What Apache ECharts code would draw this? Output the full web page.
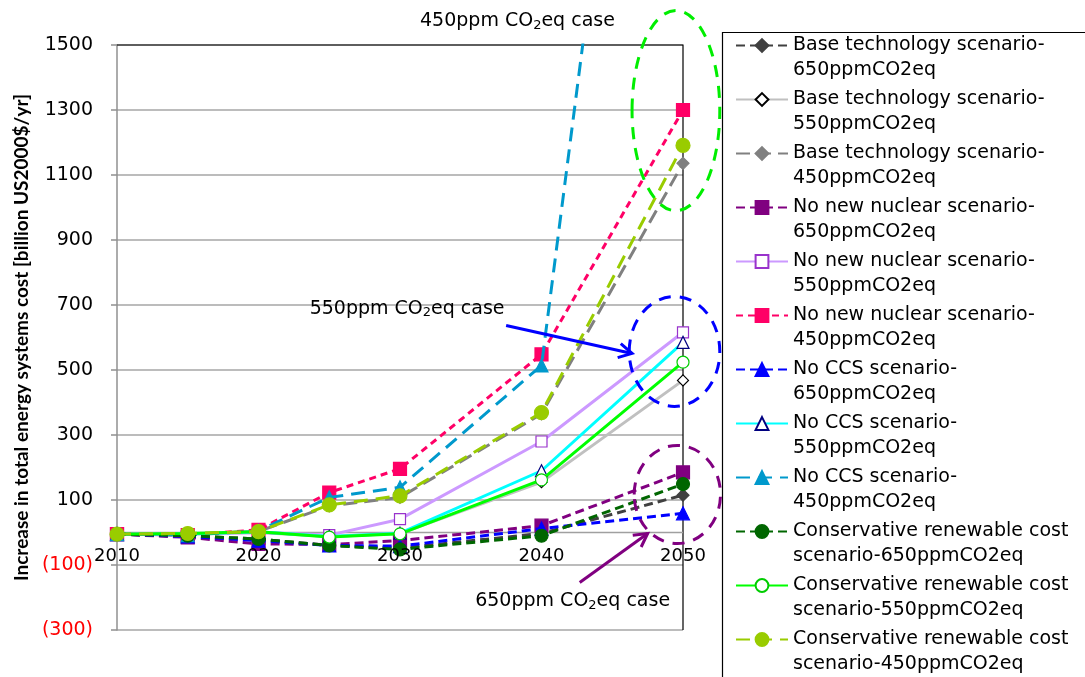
<!DOCTYPE html>
<html>
<head>
<meta charset="utf-8">
<title>Increase in total energy systems cost</title>
<script src="https://cdn.jsdelivr.net/npm/echarts@6/dist/echarts.min.js"></script>
<style>
  html, body { margin: 0; padding: 0; background: #ffffff; }
  #chart { width: 1085px; height: 677px; }
</style>
</head>
<body>
<div id="chart"></div>
<script>
// Model years and tick setup
const years = [2010, 2015, 2020, 2025, 2030, 2040, 2050];
const yearTicks = [2010, 2020, 2030, 2040, 2050];
const yTicks = { min: -300, max: 1500, interval: 200 };
const xTicks = { min: 2010, max: 2050, interval: 10 };

// Increase in total energy systems cost, billion US2000$/yr
const base650   = [-5, -10, -20, -40, -48, -3, 115];
const base550   = [-5, -5, 0, -12, -3, 155, 468];
const base450   = [-5, -5, 3, 82, 108, 365, 1136];
const noNuc650  = [-5, -15, -35, -37, -25, 21, 185];
const noNuc550  = [-5, -5, 0, -8, 41, 280, 616];
const noNuc450  = [-5, -8, 8, 123, 196, 548, 1300];
const noCcs650  = [-5, -12, -25, -40, -42, 12, 59];
const noCcs550  = [-5, -5, 2, -12, -2, 190, 585];
const noCcs450  = [-5, -8, 5, 108, 139, 514, 3900];
const cons650   = [-5, -10, -20, -40, -52, -10, 149];
const cons550   = [-5, -3, 2, -14, -4, 162, 524];
const cons450   = [-5, -3, 3, 85, 113, 369, 1191];

const seriesNames = [
  'Base technology scenario-650ppmCO2eq',
  'Base technology scenario-550ppmCO2eq',
  'Base technology scenario-450ppmCO2eq',
  'No new nuclear scenario-650ppmCO2eq',
  'No new nuclear scenario-550ppmCO2eq',
  'No new nuclear scenario-450ppmCO2eq',
  'No CCS scenario-650ppmCO2eq',
  'No CCS scenario-550ppmCO2eq',
  'No CCS scenario-450ppmCO2eq',
  'Conservative renewable cost scenario-650ppmCO2eq',
  'Conservative renewable cost scenario-550ppmCO2eq',
  'Conservative renewable cost scenario-450ppmCO2eq'
];
const seriesValues = [base650, base550, base450, noNuc650, noNuc550, noNuc450,
  noCcs650, noCcs550, noCcs450, cons650, cons550, cons450];

// Per-series look: line colour, dash, marker shape, marker fill / border
const looks = [
  { line: '#404040', dash: [9, 5],  sym: 'diamond',  size: 12, fill: '#404040', border: '#404040' },
  { line: '#C0C0C0', dash: 'solid', sym: 'diamond',  size: 11, fill: '#ffffff', border: '#000000' },
  { line: '#808080', dash: [14, 7], sym: 'diamond',  size: 12, fill: '#808080', border: '#808080' },
  { line: '#800080', dash: [9, 5],  sym: 'rect',     size: 13, fill: '#800080', border: '#800080' },
  { line: '#CC99FF', dash: 'solid', sym: 'rect',     size: 11, fill: '#ffffff', border: '#9933CC' },
  { line: '#FF0066', dash: [7, 5],  sym: 'rect',     size: 13, fill: '#FF0066', border: '#FF0066' },
  { line: '#0000FF', dash: [9, 5],  sym: 'triangle', size: 13, fill: '#0000FF', border: '#0000FF' },
  { line: '#00FFFF', dash: 'solid', sym: 'triangle', size: 12, fill: '#ffffff', border: '#000080' },
  { line: '#0099CC', dash: [14, 8], sym: 'triangle', size: 13, fill: '#0099CC', border: '#0099CC' },
  { line: '#006600', dash: [9, 5],  sym: 'circle',   size: 13, fill: '#006600', border: '#006600' },
  { line: '#00FF00', dash: 'solid', sym: 'circle',   size: 12, fill: '#ffffff', border: '#00CC00' },
  { line: '#99CC00', dash: [14, 8], sym: 'circle',   size: 14, fill: '#99CC00', border: '#99CC00' }
];

const font = 'DejaVu Sans';

const series = seriesNames.map((name, i) => {
  const lk = looks[i];
  return {
    name: name,
    type: 'line',
    data: years.map((yr, k) => [yr, seriesValues[i][k]]),
    symbol: lk.sym,
    symbolSize: lk.size,
    showAllSymbol: true,
    clip: true,
    z: 2 + i,
    lineStyle: { color: lk.line, width: 3, type: lk.dash },
    itemStyle: { color: lk.fill, borderColor: lk.border, borderWidth: 1.2 },
    emphasis: { disabled: true },
    animation: false
  };
});

// Legend labels wrap onto two lines; a blank leading line keeps the
// first text line level with the legend icon.
function legendLabel(name) {
  let lines;
  if (name.indexOf('Conservative') === 0) {
    lines = name.replace(' scenario-', '\nscenario-');
  } else {
    lines = name.replace('scenario-', 'scenario-\n');
  }
  return ' \n' + lines;
}

const chart = echarts.init(document.getElementById('chart'), null, { renderer: 'canvas' });

chart.setOption({
  backgroundColor: '#ffffff',
  animation: false,
  grid: { left: 117, right: 402, top: 45, bottom: 47, containLabel: false },
  xAxis: {
    type: 'value',
    min: xTicks.min, max: xTicks.max, interval: xTicks.interval,
    axisLine: { show: false },
    axisTick: { show: false },
    splitLine: { show: false },
    axisLabel: { show: false }
  },
  yAxis: {
    type: 'value',
    min: yTicks.min, max: yTicks.max, interval: yTicks.interval,
    axisLine: { show: true, onZero: false, lineStyle: { color: '#909090', width: 1.5 } },
    axisTick: { show: true, length: 6, lineStyle: { color: '#909090', width: 1.5 } },
    splitLine: { show: true, lineStyle: { color: '#A6A6A6', width: 1.5 } },
    axisLabel: {
      fontFamily: font, fontSize: 19, margin: 24, color: '#000',
      formatter: v => v < 0 ? '{neg|(' + Math.abs(v) + ')}' : String(v),
      rich: { neg: { color: '#FF0000', fontFamily: font, fontSize: 19 } }
    },
    name: 'Increase in total energy systems cost [billion US2000$/yr]',
    nameLocation: 'middle',
    nameRotate: 90,
    nameGap: 86,
    nameTextStyle: { fontFamily: 'Lato', fontWeight: 'bold', fontSize: 19, color: '#000' }
  },
  legend: {
    orient: 'vertical',
    left: 735,
    top: 8,
    padding: 0,
    itemGap: -21,
    itemWidth: 52,
    itemHeight: 16,
    selectedMode: false,
    data: seriesNames,
    formatter: legendLabel,
    textStyle: { fontFamily: font, fontSize: 19, lineHeight: 25, color: '#000' }
  },
  series: series
});

function px(p) { return chart.convertToPixel({ gridIndex: 0 }, p); }

// Annotations placed in data coordinates
const txtRich = {
  t: { fontFamily: font, fontSize: 19, color: '#000' },
  s: { fontFamily: font, fontSize: 13, color: '#000', padding: [9, 0, 0, 0] }
};
const notes = [
  { label: '450', at: [2038.3, 1575] },
  { label: '550', at: [2030.5, 689] },
  { label: '650', at: [2042.2, -212] }
];
const rings = [
  { c: [2049.5, 1298], rx: 3.1, ry: 308, color: '#00EE00' },
  { c: [2049.4, 557],  rx: 3.2, ry: 169, color: '#0000FF' },
  { c: [2049.6, 117],  rx: 3.05, ry: 151, color: '#800080' }
];
const arrows = [
  { from: [2037.5, 637], to: [2046.4, 551], color: '#0000FF' },
  { from: [2042.7, -154], to: [2047.5, -3], color: '#800080' }
];

const graphics = [];
// Legend frame
graphics.push({
  type: 'rect', left: 720, top: 30, silent: true, z: 0,
  shape: { x: 0, y: 0, width: 380, height: 680 },
  style: { fill: 'none', stroke: '#000', lineWidth: 1.2 }
});
// Plot frame: top and right edges
const cTL = px([xTicks.min, yTicks.max]);
const cTR = px([xTicks.max, yTicks.max]);
const cBR = px([xTicks.max, yTicks.min]);
graphics.push({
  type: 'polyline', silent: true, z: 1,
  shape: { points: [cTL, cTR, cBR] },
  style: { stroke: '#000', lineWidth: 1.2, fill: 'none' }
});
// Year axis runs along the zero line, with its labels just beneath it
const z0 = px([xTicks.min, 0]);
const z1 = px([xTicks.max, 0]);
graphics.push({
  type: 'line', silent: true, z: 1,
  shape: { x1: z0[0], y1: z0[1], x2: z1[0], y2: z1[1] },
  style: { stroke: '#A0A0A0', lineWidth: 1.5 }
});
yearTicks.forEach(yr => {
  const p = px([yr, 0]);
  graphics.push({
    type: 'text', x: p[0], y: p[1] + 15, silent: true, z: 30,
    style: { text: String(yr), fontFamily: font, fontSize: 18, fill: '#000',
      align: 'center', verticalAlign: 'top' }
  });
});
notes.forEach(n => {
  const p = px(n.at);
  graphics.push({
    type: 'text', x: p[0], y: p[1], z: 20, silent: true,
    style: {
      text: '{t|' + n.label + 'ppm CO}{s|2}{t|eq case}',
      rich: txtRich, align: 'center', verticalAlign: 'middle'
    }
  });
});
rings.forEach(r => {
  const c = px(r.c);
  const e = px([r.c[0] + r.rx, r.c[1] + r.ry]);
  graphics.push({
    type: 'ellipse', z: 20, silent: true,
    shape: { cx: c[0], cy: c[1], rx: Math.abs(e[0] - c[0]), ry: Math.abs(c[1] - e[1]) },
    style: { fill: 'none', stroke: r.color, lineWidth: 3, lineDash: [12, 9] }
  });
});
arrows.forEach(a => {
  const s = px(a.from), t = px(a.to);
  const ang = Math.atan2(t[1] - s[1], t[0] - s[0]);
  const L = 15, spread = 0.5;
  const h1 = [t[0] - L * Math.cos(ang - spread), t[1] - L * Math.sin(ang - spread)];
  const h2 = [t[0] - L * Math.cos(ang + spread), t[1] - L * Math.sin(ang + spread)];
  graphics.push({
    type: 'line', z: 20, silent: true,
    shape: { x1: s[0], y1: s[1], x2: t[0], y2: t[1] },
    style: { stroke: a.color, lineWidth: 3 }
  });
  graphics.push({
    type: 'polyline', z: 20, silent: true,
    shape: { points: [h1, t, h2] },
    style: { stroke: a.color, lineWidth: 3, fill: 'none' }
  });
});
chart.setOption({ graphic: graphics });
</script>
</body>
</html>
